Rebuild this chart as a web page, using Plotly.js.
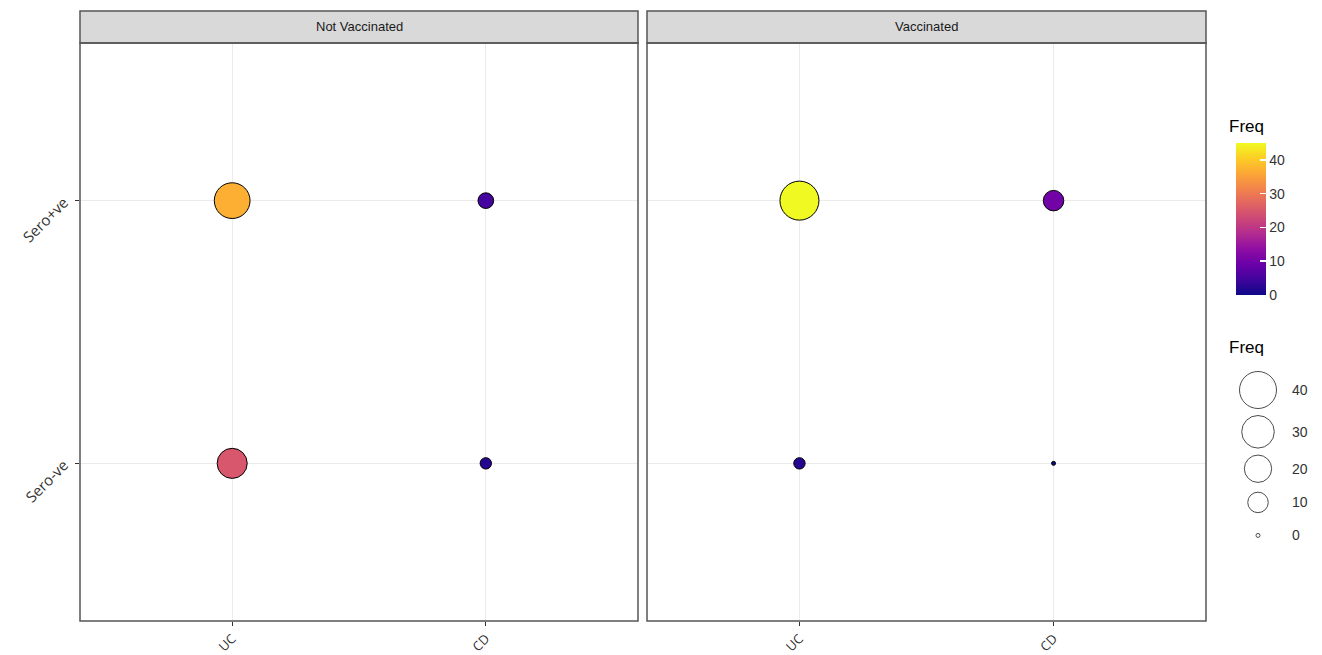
<!DOCTYPE html>
<html>
<head>
<meta charset="utf-8">
<script src="https://cdn.plot.ly/plotly-3.0.1.min.js"></script>
<style>html,body{margin:0;padding:0;background:#fff;}#chart{width:1322px;height:655px;}</style>
</head>
<body>
<div id="chart"></div>
<script>
// ---- data ----
var panels = ["Not Vaccinated", "Vaccinated"];
var diseases = ["UC", "CD"];
var sero = ["Sero-ve", "Sero+ve"];
// values in order: [UC Sero+ve, CD Sero+ve, UC Sero-ve, CD Sero-ve]
var obsDisease = ["UC", "CD", "UC", "CD"];
var obsSero = ["Sero+ve", "Sero+ve", "Sero-ve", "Sero-ve"];
var freqNotVacc = [37, 5, 25, 2];
var freqVacc = [45, 10, 2, 0];
var sizeBreaks = [40, 30, 20, 10, 0];
var colorTicks = [0, 10, 20, 30, 40];

// ---- layout geometry (pixels) ----
var W = 1322, H = 655;
var panelTop = 43, panelBottom = 621, stripTop = 11;
var p1 = [80, 638], p2 = [647, 1206];
function fx(px){return px / W;}
function fy(py){return 1 - py / H;}

var allFreq = freqNotVacc.concat(freqVacc);
var fMax = Math.max.apply(null, allFreq);
var fMin = 0;
function diam(v){ return 4 + 35 * Math.sqrt((v - fMin) / (fMax - fMin)); }

var plasma = [
  [0.0, "#0d0887"], [0.1, "#41049d"], [0.2, "#6a00a8"], [0.3, "#8f0da4"],
  [0.4, "#b12a90"], [0.5, "#cc4778"], [0.6, "#e16462"], [0.7, "#f2844b"],
  [0.8, "#fca636"], [0.9, "#fcce25"], [1.0, "#f0f921"]
];

function idx(arr, v){ return arr.indexOf(v) + 1; }

function panelTrace(freq, xa, ya){
  return {
    type: "scatter", mode: "markers",
    x: obsDisease.map(function(d){return idx(diseases, d);}),
    y: obsSero.map(function(s){return idx(sero, s);}),
    xaxis: xa, yaxis: ya,
    marker: {
      size: freq.map(diam),
      color: freq,
      coloraxis: "coloraxis",
      line: {color: "#000", width: 1},
      opacity: 1
    },
    hoverinfo: "skip", showlegend: false
  };
}

var traces = [panelTrace(freqNotVacc, "x", "y"), panelTrace(freqVacc, "x2", "y2")];

// size legend geometry
var legTop = 368;
var keyH = sizeBreaks.map(function(v){ return Math.max(diam(v) + 7, 33); });
var keyY = [];
var acc = legTop;
keyH.forEach(function(h){ keyY.push(acc + h / 2); acc += h; });
var legX = 1258;
var legXDom = [fx(1225), 1], legYDom = [fy(600), fy(330)];
traces.push({
  type: "scatter", mode: "markers",
  x: sizeBreaks.map(function(){return legX;}),
  y: keyY,
  xaxis: "x3", yaxis: "y3",
  marker: {size: sizeBreaks.map(diam), color: "rgba(255,255,255,0)", line: {color: "#000", width: 1}},
  hoverinfo: "skip", showlegend: false
});

var yTickFont = {family: "Open Sans, Liberation Sans, sans-serif", size: 15, color: "#333"};
var xTickFont = {family: "Open Sans, Liberation Sans, sans-serif", size: 13, color: "#333"};

function xAxis(dom, anchor){
  return {
    domain: dom, anchor: anchor, range: [0.4, 2.6],
    tickmode: "array", tickvals: [1, 2], ticktext: diseases,
    tickangle: -45, ticks: "outside", ticklen: 4, tickcolor: "#333", tickwidth: 1,
    tickfont: xTickFont, ticklabelstandoff: 0,
    showgrid: true, gridcolor: "#ebebeb", gridwidth: 1,
    zeroline: false, showline: false, fixedrange: true
  };
}
function yAxis(anchor, show){
  return {
    domain: [fy(panelBottom), fy(panelTop)], anchor: anchor, range: [0.4, 2.6],
    tickmode: "array", tickvals: [1, 2], ticktext: sero,
    showticklabels: show, tickangle: -45,
    ticks: show ? "outside" : "", ticklen: 4, tickcolor: "#333", tickwidth: 1,
    tickfont: yTickFont, ticklabelstandoff: 8,
    showgrid: true, gridcolor: "#ebebeb", gridwidth: 1,
    zeroline: false, showline: false, fixedrange: true
  };
}

var shapes = [];
var annotations = [];
[p1, p2].forEach(function(p, i){
  shapes.push({type: "rect", xref: "paper", yref: "paper",
    x0: fx(p[0]), x1: fx(p[1]), y0: fy(panelTop), y1: fy(stripTop),
    fillcolor: "#d9d9d9", line: {color: "#555", width: 1.5}, layer: "above"});
  shapes.push({type: "rect", xref: "paper", yref: "paper",
    x0: fx(p[0]), x1: fx(p[1]), y0: fy(panelBottom), y1: fy(panelTop),
    fillcolor: "rgba(0,0,0,0)", line: {color: "#555", width: 1.5}, layer: "above"});
  annotations.push({xref: "paper", yref: "paper",
    x: fx((p[0] + p[1]) / 2), y: fy((stripTop + panelTop) / 2),
    text: panels[i], showarrow: false, xanchor: "center", yanchor: "middle",
    font: {family: "Liberation Sans, Arial, sans-serif", size: 13, color: "#1a1a1a"}});
});

annotations.push({xref: "paper", yref: "paper", x: fx(1227), y: fy(126),
  text: "Freq", showarrow: false, xanchor: "left", yanchor: "middle",
  font: {family: "Liberation Sans, Arial, sans-serif", size: 17, color: "#000"}});
annotations.push({xref: "paper", yref: "paper", x: fx(1227), y: fy(347),
  text: "Freq", showarrow: false, xanchor: "left", yanchor: "middle",
  font: {family: "Liberation Sans, Arial, sans-serif", size: 17, color: "#000"}});
sizeBreaks.forEach(function(v, i){
  annotations.push({xref: "x3", yref: "y3", x: 1290, y: keyY[i],
    text: String(v), showarrow: false, xanchor: "left", yanchor: "middle",
    font: {family: "Liberation Sans, Arial, sans-serif", size: 14, color: "#333"}});
});

var layout = {
  width: W, height: H,
  margin: {l: 0, r: 0, t: 0, b: 0},
  paper_bgcolor: "#fff", plot_bgcolor: "rgba(0,0,0,0)",
  showlegend: false,
  xaxis: xAxis([fx(p1[0]), fx(p1[1])], "y"),
  yaxis: yAxis("x", true),
  xaxis2: xAxis([fx(p2[0]), fx(p2[1])], "y2"),
  yaxis2: yAxis("x2", false),
  xaxis3: {domain: legXDom, anchor: "y3", range: [legXDom[0] * W, W], visible: false, fixedrange: true},
  yaxis3: {domain: legYDom, anchor: "x3", range: [(1 - legYDom[0]) * H, (1 - legYDom[1]) * H], visible: false, fixedrange: true},
  coloraxis: {
    colorscale: plasma, cmin: fMin, cmax: fMax,
    colorbar: {
      x: fx(1236), xanchor: "left", xpad: 0, ypad: 0,
      y: fy(219), yanchor: "middle",
      thickness: 30, thicknessmode: "pixels",
      len: 152, lenmode: "pixels",
      outlinewidth: 0,
      tickmode: "array", tickvals: colorTicks,
      ticks: "inside", ticklen: 6, tickcolor: "#fff", tickwidth: 1.5,
      tickfont: {family: "Liberation Sans, Arial, sans-serif", size: 14, color: "#333"},
      title: {text: ""}
    }
  },
  shapes: shapes,
  annotations: annotations
};

Plotly.newPlot("chart", traces, layout, {displayModeBar: false, staticPlot: true});
</script>
</body>
</html>
